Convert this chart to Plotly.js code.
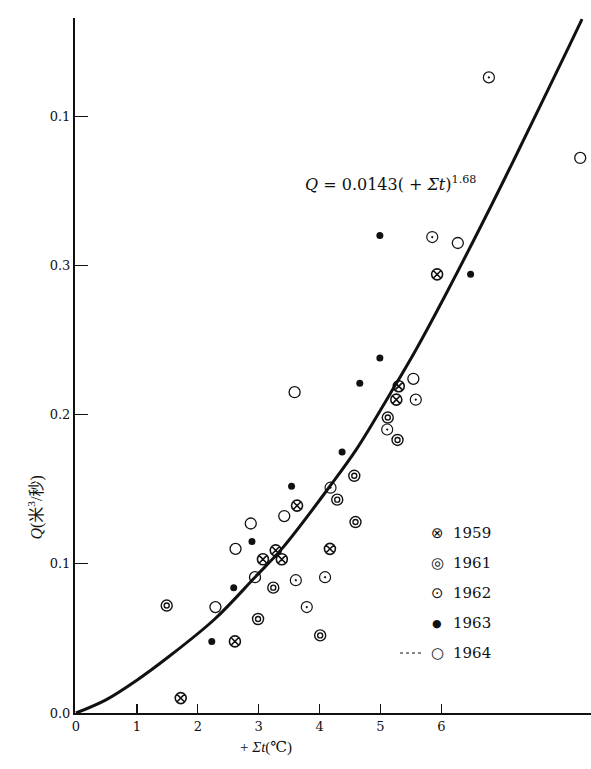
<!DOCTYPE html>
<html>
<head>
<meta charset="utf-8">
<script src="https://cdn.plot.ly/plotly-3.0.1.min.js"></script>
<style>html,body{margin:0;padding:0;background:#fff;}#chart{width:591px;height:769px;}</style>
</head>
<body>
<div id="chart"></div>
<script>
// Fitted curve
const curveX = [0, 0.5, 1.0, 1.5, 2.28, 2.94, 3.40, 4.17, 4.61, 5.16, 5.59, 6.11, 6.83, 7.26, 8.11, 8.31];
const curveY = [0, 0.009, 0.022, 0.037, 0.063, 0.091, 0.111, 0.152, 0.177, 0.214, 0.244, 0.2835, 0.341, 0.3765, 0.448, 0.465];

// Observations by year: x = +Σt (℃), y = Q (m³/s)
const x1959 = [1.72, 2.61, 3.07, 3.28, 3.38, 3.63, 4.17, 5.26, 5.30, 5.93];
const y1959 = [0.010, 0.048, 0.103, 0.109, 0.103, 0.139, 0.110, 0.210, 0.219, 0.294];

const x1961 = [1.49, 2.99, 3.24, 4.01, 4.29, 4.59, 4.57, 5.12, 5.28];
const y1961 = [0.072, 0.063, 0.084, 0.052, 0.143, 0.128, 0.159, 0.198, 0.183];

const x1962 = [3.61, 3.79, 4.09, 4.18, 5.11, 5.58, 5.85, 6.78];
const y1962 = [0.089, 0.071, 0.091, 0.151, 0.190, 0.210, 0.319, 0.426];

const x1963 = [2.23, 2.59, 2.89, 3.54, 4.37, 4.66, 4.99, 4.99, 6.48];
const y1963 = [0.048, 0.084, 0.115, 0.152, 0.175, 0.221, 0.238, 0.320, 0.294];

const x1964 = [2.29, 2.62, 2.87, 2.94, 3.42, 3.59, 5.54, 6.27, 8.28];
const y1964 = [0.071, 0.110, 0.127, 0.091, 0.132, 0.215, 0.224, 0.315, 0.372];

const yTickVals = [0, 0.1, 0.2, 0.3, 0.4];
const yTickText = ['0.0', '0.1', '0.2', '0.3', '0.1'];
const xTickVals = [0, 1, 2, 3, 4, 5, 6];
const legendYears = ['1959', '1961', '1962', '1963', '1964'];
const legendGlyphs = ['⊗', '◎', '⊙', '●', '○'];

const serif = 'Liberation Serif, DejaVu Serif, serif';
const wideSerif = 'DejaVu Serif, Liberation Serif, serif';
const ink = '#111';

const traces = [
  {x: curveX, y: curveY, mode: 'lines', line: {color: ink, width: 3, shape: 'spline', smoothing: 1}, hoverinfo: 'skip'},
  {x: x1959, y: y1959, mode: 'markers', marker: {symbol: 'circle-x-open', size: 11, color: ink, line: {width: 1.6, color: ink}}},
  {x: x1961, y: y1961, mode: 'markers', marker: {symbol: 'circle-open', size: 11, color: ink, line: {width: 1.4, color: ink}}},
  {x: x1961, y: y1961, mode: 'markers', marker: {symbol: 'circle-open', size: 5, color: ink, line: {width: 1.4, color: ink}}},
  {x: x1962, y: y1962, mode: 'markers', marker: {symbol: 'circle-open-dot', size: 11, color: ink, line: {width: 1.2, color: ink}}},
  {x: x1963, y: y1963, mode: 'markers', marker: {symbol: 'circle', size: 7, color: ink, line: {width: 0}}},
  {x: x1964, y: y1964, mode: 'markers', marker: {symbol: 'circle-open', size: 11, color: ink, line: {width: 1.3, color: ink}}}
];

const annotations = [
  {xref: 'x', yref: 'y', x: 5.16, y: 0.355, text: '<i>Q</i> = 0.0143( + <i>Σt</i>)<sup>1.68</sup>',
   showarrow: false, font: {family: wideSerif, size: 16, color: ink}, xanchor: 'center', yanchor: 'middle'},
  {xref: 'x', yref: 'paper', x: 3.12, y: -0.049, text: '+ <i>Σt</i>(℃)', showarrow: false,
   font: {family: serif + ', Noto Sans CJK SC', size: 15, color: ink}, xanchor: 'center', yanchor: 'middle'},
  {xref: 'paper', yref: 'paper', x: -0.077, y: 0.296, text: '<i>Q</i>(米<sup>3</sup>/秒)', textangle: -90, showarrow: false,
   font: {family: serif + ', Noto Sans CJK SC', size: 16, color: ink}, xanchor: 'center', yanchor: 'middle'}
];
const legendRowsPx = [533, 563, 593, 623, 653];
const glyphSizes = [15, 15, 15, 11, 15];
legendYears.forEach((t, i) => {
  const py = (713 - legendRowsPx[i]) / 695;
  annotations.push({xref: 'paper', yref: 'paper', x: (437 - 75) / 516, y: py,
    text: legendGlyphs[i], showarrow: false, xanchor: 'center', yanchor: 'middle',
    font: {family: 'DejaVu Sans, sans-serif', size: glyphSizes[i], color: ink}});
  annotations.push({xref: 'paper', yref: 'paper', x: (451 - 75) / 516, y: py,
    text: t, showarrow: false, xanchor: 'left', yanchor: 'middle',
    font: {family: wideSerif, size: 15, color: ink}});
});

const layout = {
  width: 591, height: 769,
  margin: {l: 75, r: 0, t: 18, b: 56, pad: 0},
  paper_bgcolor: '#fff', plot_bgcolor: '#fff',
  showlegend: false,
  xaxis: {range: [-0.016, 8.457], tickvals: xTickVals, ticks: 'inside', ticklen: 9, tickwidth: 1.3, tickcolor: ink,
    showline: true, linewidth: 2, linecolor: ink, showgrid: false, zeroline: false,
    tickfont: {family: wideSerif, size: 13, color: ink}},
  yaxis: {range: [0, 0.4658], tickvals: yTickVals, ticktext: yTickText, ticks: 'inside', ticklen: 13, tickwidth: 1.3, tickcolor: ink,
    showline: true, linewidth: 2, linecolor: ink, showgrid: false, zeroline: false,
    tickfont: {family: wideSerif, size: 13, color: ink}},
  shapes: [
    {type: 'line', xref: 'paper', yref: 'paper', x0: (400 - 75) / 516, x1: (421 - 75) / 516,
     y0: (713 - 653) / 695, y1: (713 - 653) / 695, line: {color: ink, width: 1, dash: 'dot'}}
  ],
  annotations: annotations
};

Plotly.newPlot('chart', traces, layout, {staticPlot: true, displayModeBar: false});
</script>
</body>
</html>
